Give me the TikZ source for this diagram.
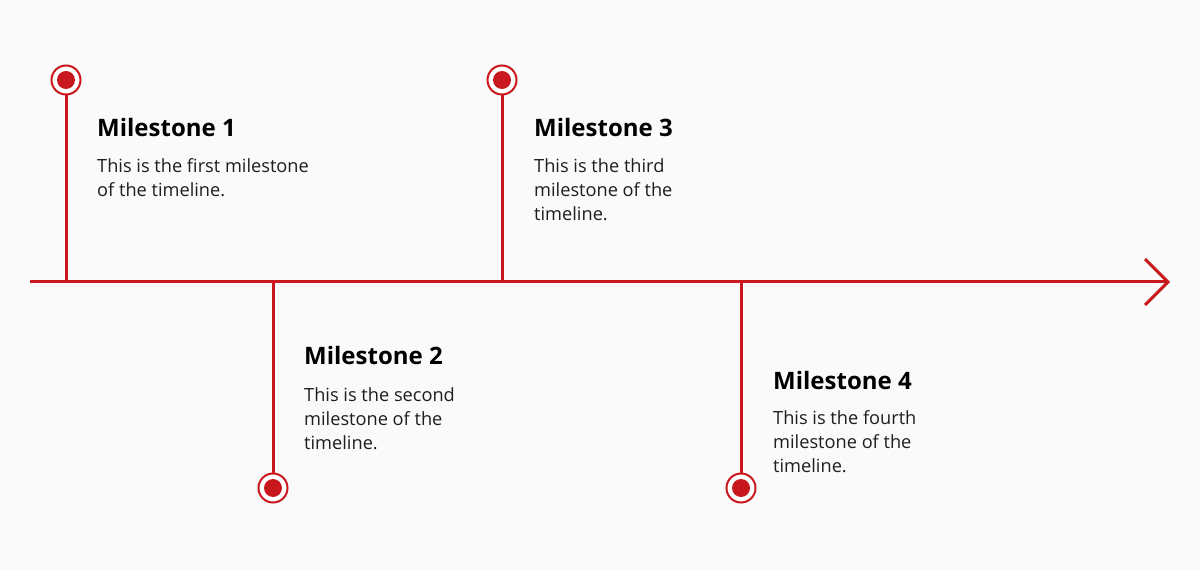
\documentclass[tikz,border=0pt]{standalone}
\usepackage{fontspec}
\setmainfont{Open Sans}
\definecolor{tred}{HTML}{C8171D}
\definecolor{bg}{HTML}{FAFAFA}
\definecolor{bodytxt}{HTML}{1E1E1E}
\begin{document}
\begin{tikzpicture}[x=1pt,y=-1pt,
  line/.style={draw=tred,line width=3pt},
  ring/.style={circle,draw=tred,line width=2pt,fill=white,minimum size=29pt,inner sep=0pt},
  dot/.style={circle,fill=tred,minimum size=18pt,inner sep=0pt},
  ttl/.style={anchor=base west,inner sep=0pt,font=\fontsize{24}{28}\bfseries\selectfont,text=black},
  bodyt/.style={anchor=base west,inner sep=0pt,align=left,font=\fontsize{18.2}{24}\selectfont,text=bodytxt}]
\fill[bg] (0,0) rectangle (1200,569);
\useasboundingbox (0,0) rectangle (1200,569);
% axis
\coordinate (s) at (30,282);
\coordinate (e) at (1168,282);
\coordinate (a1) at (1145,259);
\coordinate (a2) at (1145,305);
\draw[line] (s) -- (e);
\draw[line,line join=miter] (a1) -- (e) -- (a2);
% markers
\coordinate (b1) at (66,282);
\coordinate (b2) at (273,282);
\coordinate (b3) at (502,282);
\coordinate (b4) at (741,282);
\node[ring] (r1) at (66,80) {};
\node[ring] (r2) at (273,488) {};
\node[ring] (r3) at (502,80) {};
\node[ring] (r4) at (741,488) {};
\draw[line] (r1) -- (b1);
\draw[line] (r2) -- (b2);
\draw[line] (r3) -- (b3);
\draw[line] (r4) -- (b4);
\node[dot] (d1) at (r1) {};
\node[dot] (d2) at (r2) {};
\node[dot] (d3) at (r3) {};
\node[dot] (d4) at (r4) {};
% texts (base anchor = last line baseline)
\node[ttl] (t1) at (97,137) {Milestone 1};
\node[bodyt] (x1) at (97,197) {This is the first milestone\\of the timeline.};
\node[ttl] (t2) at (304,365) {Milestone 2};
\node[bodyt] (x2) at (304,449) {This is the second\\milestone of the\\timeline.};
\node[ttl] (t3) at (534,137) {Milestone 3};
\node[bodyt] (x3) at (534,221) {This is the third\\milestone of the\\timeline.};
\node[ttl] (t4) at (773,389) {Milestone 4};
\node[bodyt] (x4) at (773,472) {This is the fourth\\milestone of the\\timeline.};
\end{tikzpicture}
\end{document}
